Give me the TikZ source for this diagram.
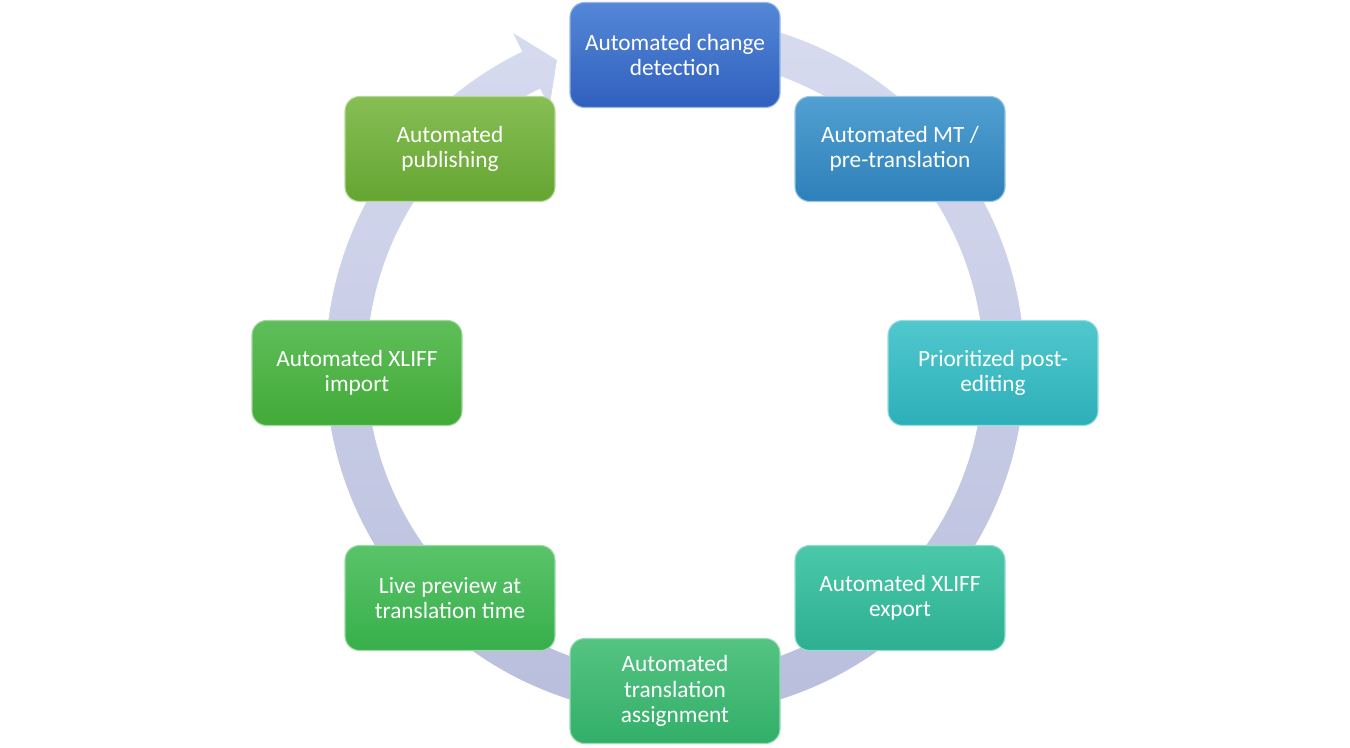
\documentclass[tikz,border=0pt]{standalone}
\usepackage{fontspec}
\setmainfont{Carlito}
\definecolor{ringtop}{RGB}{216,220,240}
\definecolor{ringbot}{RGB}{184,189,220}
\definecolor{aTop}{RGB}{84,135,214}  \definecolor{aBot}{RGB}{48,96,190}
\definecolor{bTop}{RGB}{82,160,210}  \definecolor{bBot}{RGB}{45,128,185}
\definecolor{cTop}{RGB}{80,200,205}  \definecolor{cBot}{RGB}{45,175,185}
\definecolor{dTop}{RGB}{75,200,170}  \definecolor{dBot}{RGB}{45,175,145}
\definecolor{eTop}{RGB}{85,195,130}  \definecolor{eBot}{RGB}{50,175,105}
\definecolor{fTop}{RGB}{90,195,105}  \definecolor{fBot}{RGB}{55,175,75}
\definecolor{gTop}{RGB}{95,190,90}   \definecolor{gBot}{RGB}{65,170,55}
\definecolor{hTop}{RGB}{135,190,85}  \definecolor{hBot}{RGB}{100,165,50}
\begin{document}
\begin{tikzpicture}[x=0.75pt, y=0.75pt]
\tikzset{ step box/.style={rounded corners=11pt, minimum width=157.5pt, minimum height=78.75pt,
            align=center, text=white, font=\fontsize{17.5}{19}\selectfont,
            line width=0.8pt},
          ring/.style={top color=ringtop, bottom color=ringbot, draw=white, line width=0.6pt},
          boxA/.style={top color=aTop, bottom color=aBot, draw=aTop!60!white},
          boxB/.style={top color=bTop, bottom color=bBot, draw=bTop!60!white},
          boxC/.style={top color=cTop, bottom color=cBot, draw=cTop!60!white},
          boxD/.style={top color=dTop, bottom color=dBot, draw=dTop!60!white},
          boxE/.style={top color=eTop, bottom color=eBot, draw=eTop!60!white},
          boxF/.style={top color=fTop, bottom color=fBot, draw=fTop!60!white},
          boxG/.style={top color=gTop, bottom color=gBot, draw=gTop!60!white},
          boxH/.style={top color=hTop, bottom color=hBot, draw=hTop!60!white},
}

\useasboundingbox (0,0) rectangle (1350,747);

% the cycle arrow
\begin{scope}[shift={(675,381)}]
\shade [ring] (95:350) arc [start angle=95, end angle=-244, radius=350]
      -- (-244:372) -- (-249:328) -- (-244:286) -- (-244:308)
      arc [start angle=-244, end angle=95, radius=308] -- cycle;
\end{scope}

% the steps
\node [step box, boxA] (detect)   at (675,692) {Automated change\\detection};
\node [step box, boxB] (mt)       at (900,598) {Automated MT /\\pre-translation};
\node [step box, boxC] (postedit) at (993,374) {Prioritized post-\\editing};
\node [step box, boxD] (export)   at (900,149) {Automated XLIFF\\export};
\node [step box, boxE] (assign)   at (675,56)  {Automated\\translation\\assignment};
\node [step box, boxF] (preview)  at (450,149) {Live preview at\\translation time};
\node [step box, boxG] (import)   at (357,374) {Automated XLIFF\\import};
\node [step box, boxH] (publish)  at (450,598) {Automated\\publishing};

\end{tikzpicture}
\end{document}
